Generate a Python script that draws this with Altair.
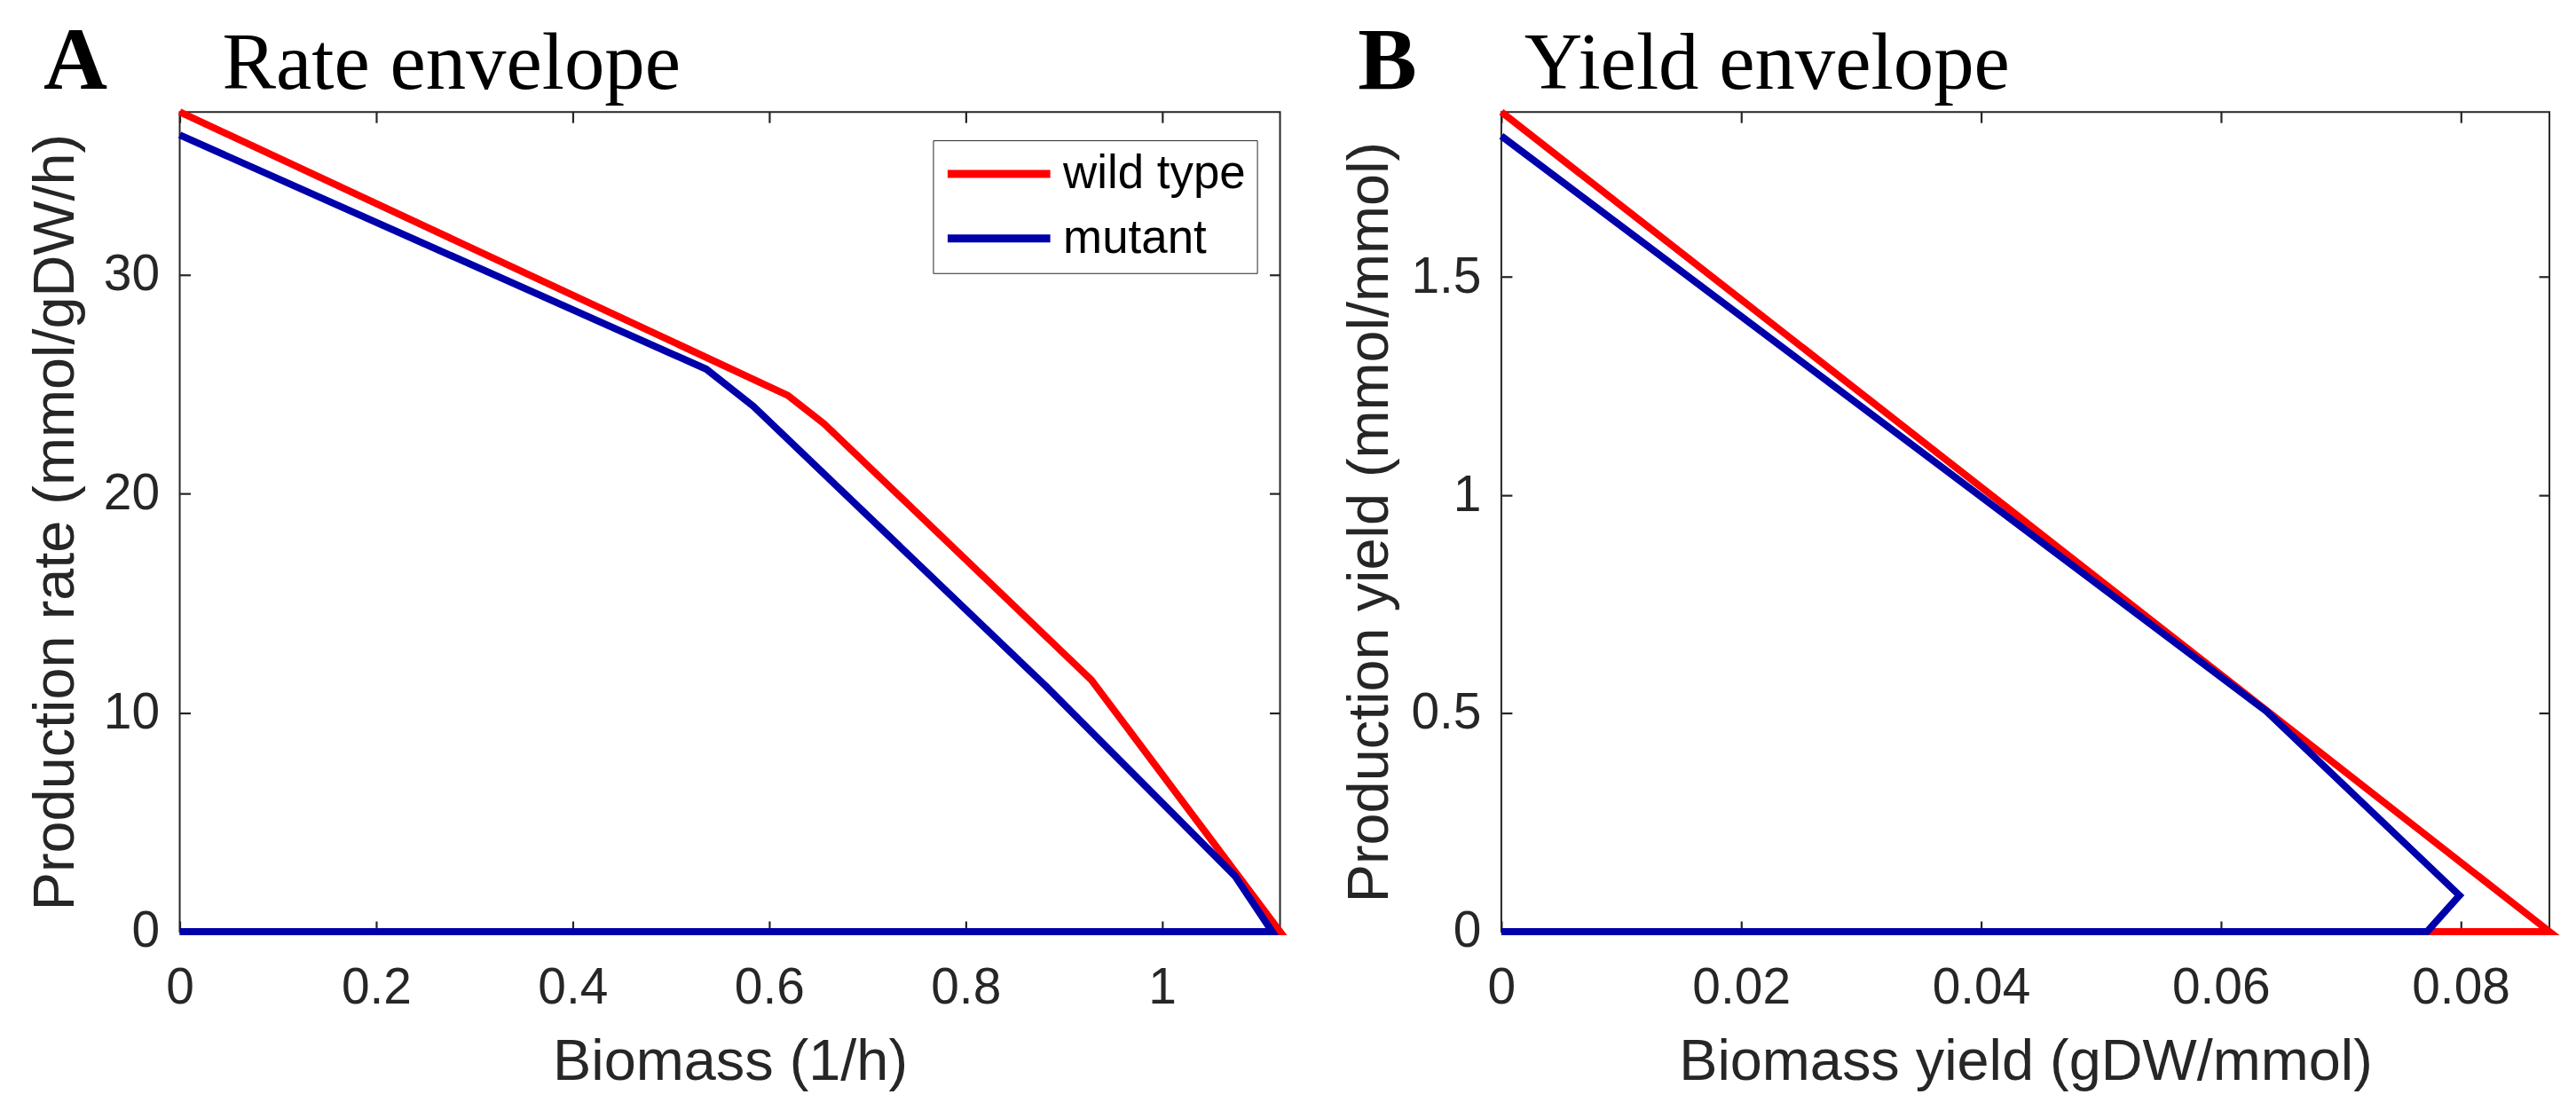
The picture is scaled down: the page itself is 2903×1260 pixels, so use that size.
import altair as alt
import pandas as pd

# Panel A: rate envelope (x = biomass, y = production rate)
rate_wt_x = [0, 0.619, 0.656, 0.928, 1.12, 0]
rate_wt_y = [37.45, 24.5, 23.2, 11.5, 0, 0]
rate_mut_x = [0, 0.536, 0.584, 0.882, 1.074, 1.112, 0]
rate_mut_y = [36.4, 25.7, 24.0, 11.2, 2.55, 0, 0]

# Panel B: yield envelope (x = biomass yield, y = production yield)
yield_wt_x = [0, 0.0874, 0]
yield_wt_y = [1.878, 0, 0]
yield_mut_x = [0, 0.0638, 0.0799, 0.0772, 0]
yield_mut_y = [1.823, 0.505, 0.083, 0, 0]

series = ['wild type', 'mutant']
colors = ['#ff0000', '#0000aa']

rate_x_ticks = [0, 0.2, 0.4, 0.6, 0.8, 1]
rate_y_ticks = [0, 10, 20, 30]
yield_x_ticks = [0, 0.02, 0.04, 0.06, 0.08]
yield_y_ticks = [0, 0.5, 1, 1.5]

FRAME = '#262626'
H = 926


def envelope(xs, ys, name):
    return pd.DataFrame({'x': xs, 'y': ys, 'series': name, 'step': list(range(len(xs)))})


def panel(wt, mut, x_dom, y_dom, x_ticks, y_ticks, x_title, y_title,
          letter, heading, W, legend_x, letter_dx, heading_dx, y_title_pad):
    df = pd.concat([wt, mut], ignore_index=True)
    xs = alt.Scale(domain=x_dom, nice=False, zero=False)
    ys = alt.Scale(domain=y_dom, nice=False, zero=False)
    color = alt.Color('series:N', scale=alt.Scale(domain=series, range=colors),
                      legend=alt.Legend(title=None, orient='none', legendX=legend_x, legendY=32,
                                        direction='vertical', symbolType='M-1,0H3.46',
                                        symbolSize=2704, symbolStrokeWidth=9, clipHeight=52,
                                        labelOffset=74, rowPadding=20, padding=12,
                                        strokeColor=FRAME, fillColor='white',
                                        labelFont='Liberation Sans', labelFontSize=53,
                                        labelLimit=500, labelColor='black', cornerRadius=0))
    inner = dict(labels=False, domain=False, grid=False, tickSize=12)

    base = alt.Chart(df)
    # wild type first, carries the labelled bottom/left axes
    red = base.transform_filter(alt.datum.series == 'wild type').mark_line(strokeWidth=8).encode(
        x=alt.X('x:Q', scale=xs, axis=alt.Axis(orient='bottom', values=x_ticks, format='~r',
                                                title=x_title, ticks=False, labelPadding=36,
                                                labelFlush=False, titlePadding=24)),
        y=alt.Y('y:Q', scale=ys, axis=alt.Axis(orient='left', values=y_ticks, format='~r',
                                                title=y_title, ticks=False, labelPadding=23,
                                                labelFlush=False, titlePadding=y_title_pad)),
        color=color,
        order='step:Q',
    )
    # mutant on top, with inward ticks on the bottom and left edges
    blue = base.transform_filter(alt.datum.series == 'mutant').mark_line(strokeWidth=8).encode(
        x=alt.X('x:Q', scale=xs, axis=alt.Axis(orient='top', offset=-H, values=x_ticks, title=None, **inner)),
        y=alt.Y('y:Q', scale=ys, axis=alt.Axis(orient='right', offset=-W, values=y_ticks, title=None, **inner)),
        color=color,
        order='step:Q',
    )
    # invisible layer for inward ticks on the top and right edges
    ticks = base.mark_point(opacity=0).encode(
        x=alt.X('x:Q', scale=xs, axis=alt.Axis(orient='bottom', offset=-H, values=x_ticks, title=None, **inner)),
        y=alt.Y('y:Q', scale=ys, axis=alt.Axis(orient='left', offset=-W, values=y_ticks, title=None, **inner)),
    )
    tag = alt.Chart(pd.DataFrame({'t': [letter]})).mark_text(
        font='Liberation Serif', fontSize=100, fontWeight='bold', align='left',
        baseline='alphabetic', color='black').encode(
        text='t:N', x=alt.value(letter_dx), y=alt.value(-26))
    head = alt.Chart(pd.DataFrame({'t': [heading]})).mark_text(
        font='Liberation Serif', fontSize=91, align='left',
        baseline='alphabetic', color='black').encode(
        text='t:N', x=alt.value(heading_dx), y=alt.value(-26))

    return alt.layer(red, blue, ticks, tag, head).resolve_axis(
        x='independent', y='independent').properties(width=W, height=H)


panel_a = panel(envelope(rate_wt_x, rate_wt_y, 'wild type'), envelope(rate_mut_x, rate_mut_y, 'mutant'),
                [0, 1.12], [0, 37.45], rate_x_ticks, rate_y_ticks,
                'Biomass (1/h)', 'Production rate (mmol/gDW/h)',
                'A', 'Rate envelope', 1243, 851, -154, 48, 20)
panel_b = panel(envelope(yield_wt_x, yield_wt_y, 'wild type'), envelope(yield_mut_x, yield_mut_y, 'mutant'),
                [0, 0.0874], [0, 1.878], yield_x_ticks, yield_y_ticks,
                'Biomass yield (gDW/mmol)', 'Production yield (mmol/mmol)',
                'B', 'Yield envelope', 1184, 814, -162, 26, 12)

chart = alt.hconcat(panel_a, panel_b, spacing=51).properties(
    padding={'left': 21, 'top': 10, 'right': 5, 'bottom': 5},
    background='white',
).configure_view(
    stroke=FRAME, strokeWidth=2
).configure_axis(
    labelFont='Liberation Sans', labelFontSize=57, labelColor=FRAME,
    titleFont='Liberation Sans', titleFontSize=65, titleColor=FRAME, titleFontWeight='normal',
    tickColor=FRAME, tickWidth=2.2, domain=False, grid=False,
)

chart.save("out.html", embed_options={"renderer": "svg", "actions": False})
